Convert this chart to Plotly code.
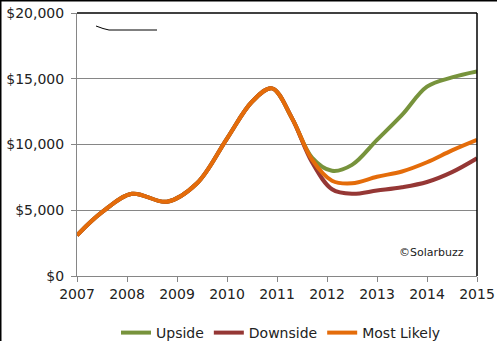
import plotly.graph_objects as go

# Decimal-year sample points shared by all three scenarios
years = [2007.0, 2007.5, 2008.1, 2008.8, 2009.4, 2010.0, 2010.5, 2010.9,
         2011.3, 2011.7, 2012.1, 2012.5, 2013.0, 2013.5, 2014.0, 2014.5, 2015.0]

upside = [3100, 4850, 6250, 5650, 7050, 10450, 13250, 14270,
          12000, 9000, 8000, 8450, 10350, 12250, 14400, 15100, 15550]
downside = [3100, 4850, 6250, 5650, 7050, 10450, 13250, 14270,
            12000, 8650, 6600, 6250, 6500, 6750, 7150, 7900, 8950]
most_likely = [3100, 4850, 6250, 5650, 7050, 10450, 13250, 14270,
               12000, 8850, 7250, 7050, 7550, 7950, 8650, 9550, 10350]

tick_years = [2007, 2008, 2009, 2010, 2011, 2012, 2013, 2014, 2015]
y_ticks = [0, 5000, 10000, 15000, 20000]
y_labels = ["$0", "$5,000", "$10,000", "$15,000", "$20,000"]

series = [
    ("Upside", upside, "#77933C"),
    ("Downside", downside, "#953735"),
    ("Most Likely", most_likely, "#E46C0A"),
]

W, H = 497, 341
L, R, T, B = 77, 20, 13, 65
pw, ph = W - L - R, H - T - B


def px_x(p):
    return (p - L) / pw


def px_y(p):
    return 1 - (p - T) / ph


fig = go.Figure()
for name, vals, color in series:
    fig.add_trace(go.Scatter(
        x=years, y=vals, name=name, mode="lines",
        line=dict(color=color, width=4, shape="spline", smoothing=1.0),
    ))

grid = "#868686"
font = dict(family="DejaVu Sans, Verdana, sans-serif", size=14, color="#222222")

fig.update_layout(
    width=W, height=H,
    margin=dict(l=L, r=R, t=T, b=B, autoexpand=False),
    paper_bgcolor="white", plot_bgcolor="white",
    font=font,
    showlegend=True,
    legend=dict(orientation="h", x=px_x(281), xanchor="center", y=px_y(333), yanchor="middle",
                font=dict(size=14), itemwidth=30, traceorder="normal"),
    xaxis=dict(range=[2007, 2015], tickvals=tick_years, ticktext=[str(y) for y in tick_years],
               showgrid=False, showline=True, linecolor=grid, linewidth=1,
               ticks="outside", ticklen=5, tickcolor=grid, zeroline=False,
               automargin=False),
    yaxis=dict(range=[0, 20000], tickvals=y_ticks, ticktext=y_labels,
               showgrid=True, gridcolor=grid, gridwidth=1,
               showline=True, linecolor=grid, linewidth=1,
               ticks="outside", ticklen=5, tickcolor=grid, zeroline=False,
               ticklabelstandoff=4, automargin=False),
)

shapes = [
    # black frame on the top and right of the plot area
    dict(type="line", xref="paper", yref="paper", x0=0, x1=1, y0=1, y1=1,
         line=dict(color="black", width=1.5)),
    dict(type="line", xref="paper", yref="paper", x0=1, x1=1, y0=0, y1=1,
         line=dict(color="black", width=1.5)),
    # outer border along the left and top of the figure
    dict(type="line", xref="paper", yref="paper", x0=px_x(0.5), x1=px_x(0.5),
         y0=px_y(0), y1=px_y(H), line=dict(color="black", width=2)),
    dict(type="line", xref="paper", yref="paper", x0=px_x(0), x1=px_x(W),
         y0=px_y(0.5), y1=px_y(0.5), line=dict(color="black", width=2)),
    # small stroke near the top-left corner
    dict(type="path", xref="paper", yref="paper",
         path=f"M {px_x(96)} {px_y(26)} L {px_x(103)} {px_y(28.5)} L {px_x(109)} {px_y(30)} L {px_x(157)} {px_y(30)}",
         line=dict(color="black", width=1)),
]
fig.update_layout(shapes=shapes)

fig.add_annotation(text="©Solarbuzz", xref="paper", yref="paper",
                   x=px_x(466), y=px_y(252), xanchor="right", yanchor="middle",
                   showarrow=False, font=dict(size=11, color="#222222"))

fig.write_html("out.html")
